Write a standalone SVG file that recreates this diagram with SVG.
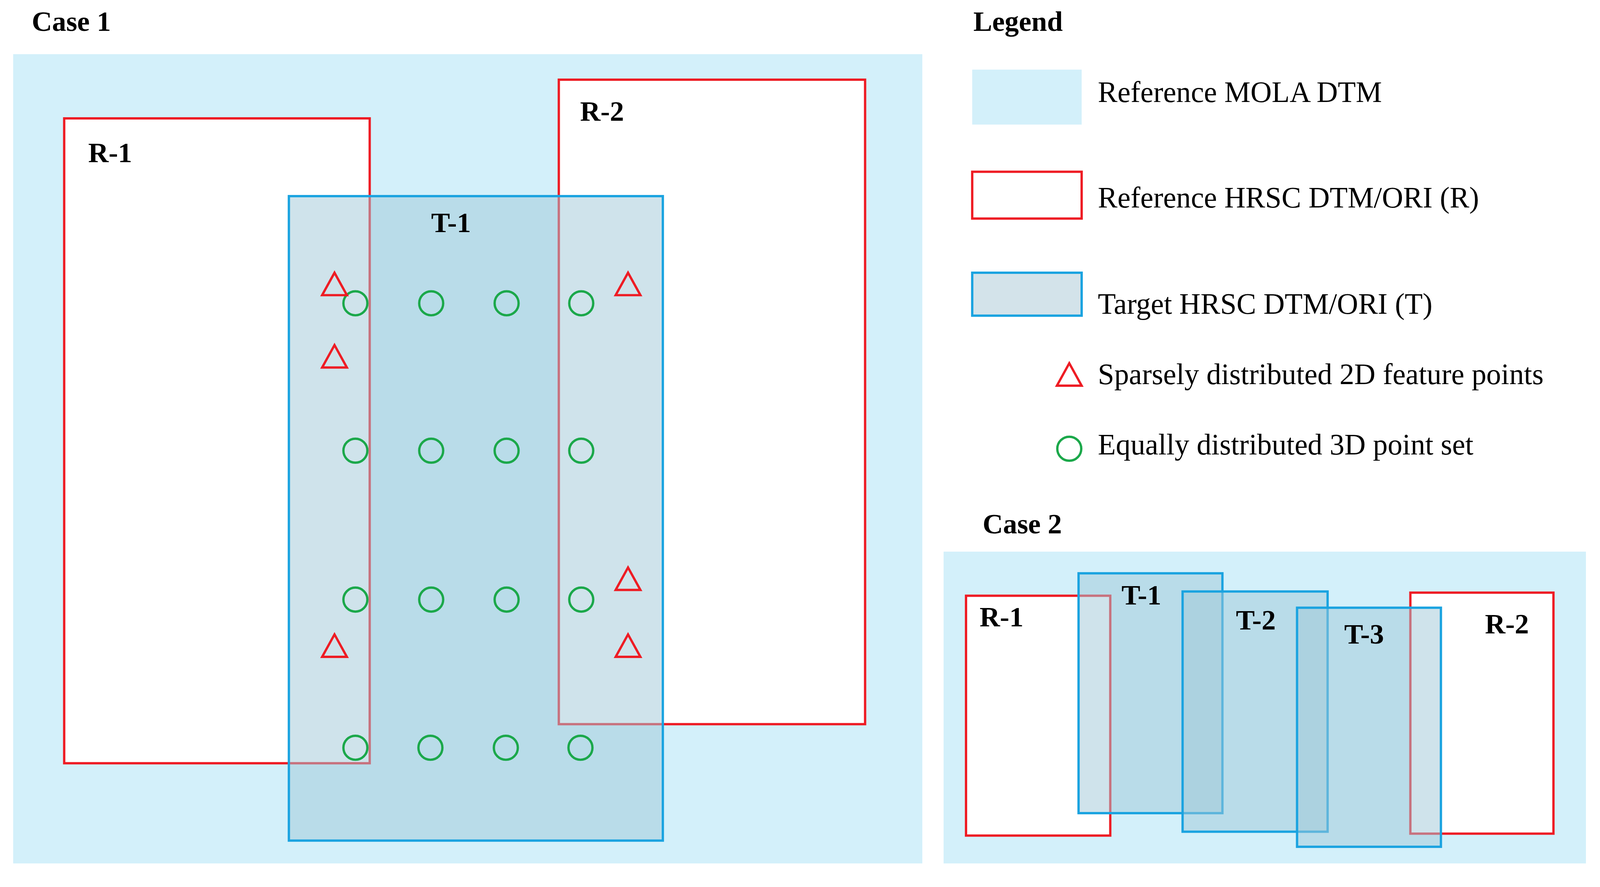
<svg xmlns="http://www.w3.org/2000/svg" width="4141" height="2270" viewBox="0 0 4141 2270">
<style>
.bg{fill:#d3f0fa}
.r{fill:#fff;stroke:#ee1c24;stroke-width:6}
.t{fill:rgba(160,200,215,0.5);stroke:#1aa3e0;stroke-width:6}
.tl{fill:#d3e3ea;stroke:#1aa3e0;stroke-width:6}
.c{fill:none;stroke:#1ba84a;stroke-width:6}
.tri{fill:none;stroke:#ee1c24;stroke-width:6}
.h{font-family:"Liberation Serif",serif;font-weight:bold;font-size:73px;fill:#000}
.l{font-family:"Liberation Serif",serif;font-size:76px;fill:#000}
</style>
<defs>
<circle id="c" r="31" class="c"/>
<path id="tri" d="M0,-30 L32,28 L-32,28 Z" class="tri"/>
</defs>
<g transform="scale(0.99)">
<g id="case1">
<text class="h" x="82" y="80">Case 1</text>
<rect class="bg" x="34" y="140" width="2351" height="2092"/>
<g id="c1-R1"><rect class="r" x="166" y="306" width="790" height="1667"/><text class="h" x="228" y="419">R-1</text></g>
<g id="c1-R2"><rect class="r" x="1445" y="206" width="792" height="1666"/><text class="h" x="1500" y="312">R-2</text></g>
<g id="c1-T1"><rect class="t" x="747" y="507" width="967" height="1666"/><text class="h" x="1115" y="600">T-1</text></g>
<g id="points">
<use href="#c" x="919" y="784"/><use href="#c" x="1115" y="784"/><use href="#c" x="1310" y="784"/><use href="#c" x="1503" y="784"/>
<use href="#c" x="919" y="1165"/><use href="#c" x="1115" y="1165"/><use href="#c" x="1310" y="1165"/><use href="#c" x="1503" y="1165"/>
<use href="#c" x="919" y="1550"/><use href="#c" x="1115" y="1550"/><use href="#c" x="1310" y="1550"/><use href="#c" x="1503" y="1550"/>
<use href="#c" x="919" y="1933"/><use href="#c" x="1113" y="1933"/><use href="#c" x="1308" y="1933"/><use href="#c" x="1501" y="1933"/>
<use href="#tri" x="865" y="735"/><use href="#tri" x="865" y="922"/><use href="#tri" x="865" y="1670"/>
<use href="#tri" x="1624" y="735"/><use href="#tri" x="1624" y="1497"/><use href="#tri" x="1624" y="1670"/>
</g>
</g>
<g id="legend">
<text class="h" x="2517" y="80">Legend</text>
<rect class="bg" x="2514" y="180" width="283" height="142"/>
<text class="l" x="2839" y="264">Reference MOLA DTM</text>
<rect class="r" x="2514" y="444" width="283" height="121"/>
<text class="l" x="2839" y="536">Reference HRSC DTM/ORI (R)</text>
<rect class="tl" x="2514" y="705" width="283" height="111"/>
<text class="l" x="2839" y="811">Target HRSC DTM/ORI (T)</text>
<use href="#tri" x="2765" y="969"/>
<text class="l" x="2839" y="993">Sparsely distributed 2D feature points</text>
<use href="#c" x="2765" y="1160"/>
<text class="l" x="2839" y="1175">Equally distributed 3D point set</text>
</g>
<g id="case2">
<text class="h" x="2541" y="1379">Case 2</text>
<rect class="bg" x="2440" y="1426" width="1661" height="806"/>
<g id="c2-R1"><rect class="r" x="2498" y="1540" width="373" height="620"/><text class="h" x="2533" y="1619">R-1</text></g>
<g id="c2-R2"><rect class="r" x="3647" y="1532" width="370" height="623"/><text class="h" x="3840" y="1637">R-2</text></g>
<g id="c2-T1"><rect class="t" x="2789" y="1482" width="372" height="620"/><text class="h" x="2900" y="1563">T-1</text></g>
<g id="c2-T2"><rect class="t" x="3058" y="1529" width="375" height="621"/><text class="h" x="3196" y="1627">T-2</text></g>
<g id="c2-T3"><rect class="t" x="3354" y="1571" width="372" height="618"/><text class="h" x="3476" y="1664">T-3</text></g>
</g>
</g>
<g id="connectors"/>
</svg>
